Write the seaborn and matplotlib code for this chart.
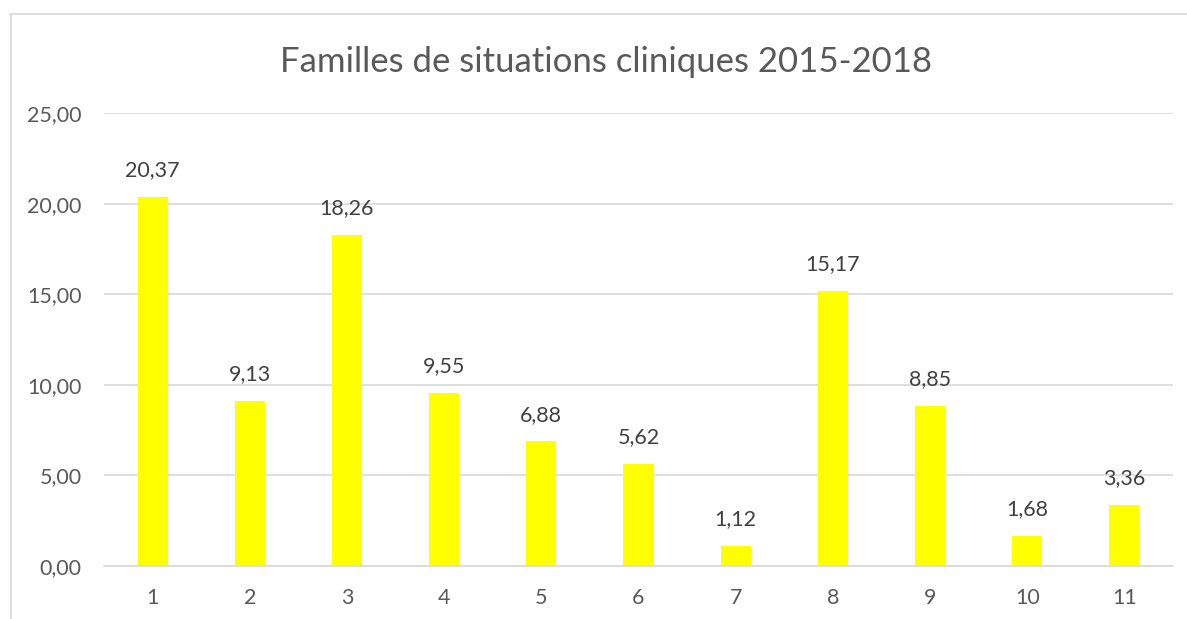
import matplotlib
matplotlib.use("Agg")
import matplotlib.pyplot as plt
import seaborn as sns
import pandas as pd
from matplotlib.lines import Line2D

categories = ["1", "2", "3", "4", "5", "6", "7", "8", "9", "10", "11"]
values = [20.37, 9.13, 18.26, 9.55, 6.88, 5.62, 1.12, 15.17, 8.85, 1.68, 3.36]
yticks = [0, 5, 10, 15, 20, 25]
title = "Familles de situations cliniques 2015-2018"

sns.set_theme(style="white")
plt.rcParams['font.family'] = ['Lato', 'DejaVu Sans']

df = pd.DataFrame({"cat": categories, "val": values})

fig = plt.figure(figsize=(11.87, 6.19), dpi=100)
ax = fig.add_axes([104/1187, 1-566/619, (1173-104)/1187, (566-113)/619])

sns.barplot(data=df, x="cat", y="val", order=categories, color="#FFFF00",
            saturation=1, width=0.31, ax=ax, edgecolor="none", linewidth=0)

ax.set_ylim(0, 25)
ax.set_yticks(yticks)
ax.set_yticklabels([f"{v:.2f}".replace(".", ",") for v in yticks])
ax.set_xlim(-0.5, len(categories) - 0.5)
ax.set_xlabel("")
ax.set_ylabel("")
ax.yaxis.grid(True, color="#D9D9D9", linewidth=1.2)
ax.set_axisbelow(True)
for s in ["top", "right", "left"]:
    ax.spines[s].set_visible(False)
ax.spines["bottom"].set_color("#D9D9D9")
ax.spines["bottom"].set_linewidth(1.2)
ax.tick_params(axis="both", length=0, labelsize=15.5, labelcolor="#595959")
ax.tick_params(axis="x", pad=16)
ax.tick_params(axis="y", pad=16)

for i, v in enumerate(values):
    ax.annotate(f"{v:.2f}".replace(".", ","), (i, v), xytext=(0, 12),
                textcoords="offset points", ha="center", va="bottom",
                fontsize=15.5, color="#404040")

fig.text(606/1187, 1-62/619, title, ha="center", va="center",
         fontsize=25, color="#595959")

# chart border (cropped)
fig.add_artist(Line2D([10.5/1187, 10.5/1187], [0, 1-14/619], transform=fig.transFigure,
                      color="#D9D9D9", linewidth=1.2))
fig.add_artist(Line2D([10/1187, 1], [1-14/619, 1-14/619], transform=fig.transFigure,
                      color="#D9D9D9", linewidth=1.2))

fig.savefig("out.png", dpi=100, facecolor="white")
